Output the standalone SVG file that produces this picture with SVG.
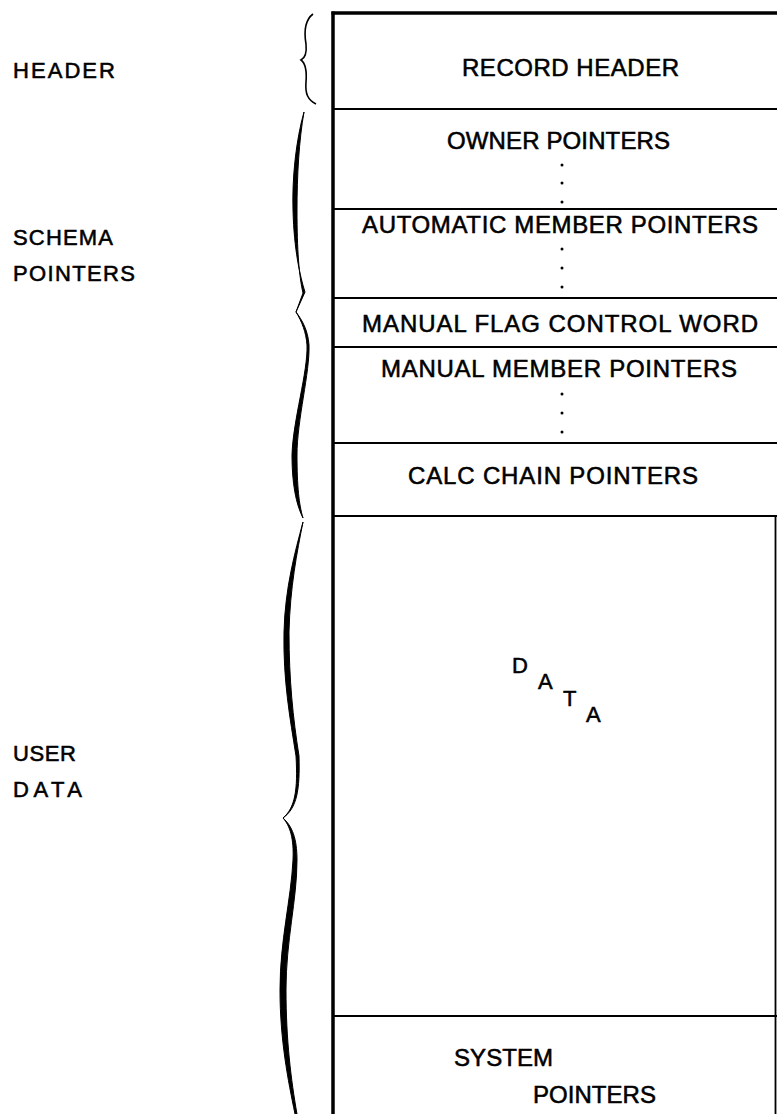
<svg xmlns="http://www.w3.org/2000/svg" width="777" height="1114" viewBox="0 0 777 1114">
<style>
text { font-family: "Liberation Sans", Arial, sans-serif; fill: #000; stroke: #000; stroke-width: 0.55; }
.in { font-size: 24px; }
.lab { font-size: 22px; }
.dat { font-size: 22px; }
.div { stroke: #000; stroke-width: 2; fill: none; }
.dot { fill: #000; }
.brace { fill: #000; stroke: #000; stroke-width: 1; stroke-linejoin: round; }
</style>
<rect width="777" height="1114" fill="#fff"/>

<g id="labels">
  <text class="lab" x="13" y="78" textLength="102" lengthAdjust="spacing">HEADER</text>
  <text class="lab" x="13" y="245" textLength="100" lengthAdjust="spacing">SCHEMA</text>
  <text class="lab" x="13" y="281" textLength="122" lengthAdjust="spacing">POINTERS</text>
  <text class="lab" x="13" y="761" textLength="63" lengthAdjust="spacing">USER</text>
  <text class="lab" x="13" y="797" textLength="69" lengthAdjust="spacing">DATA</text>
</g>

<g id="braces">
  <path id="brace-header" d="M313,14 C305,20 304,32 306,44 C307,54 305,58 301,60 C305,63 307,70 306,82 C305,94 308,100 316,104" fill="none" stroke="#000" stroke-width="1.6"/>
  <path id="brace-schema-top" class="brace" d="M304,112 C296,140 292,178 293,210 C294,250 300,276 305,292 L296,312 L303,293 C299,276 297,250 297,210 C297,176 299,140 304,112 Z"/>
  <path id="brace-schema-bottom" class="brace" d="M296,312 C302,322 306,332 307,345 C308,372 293,420 292,455 C292,490 298,508 303,518 C299,505 297,486 297,455 C297,420 310,372 309,345 C308,330 302,320 296,312 Z"/>
  <path id="brace-user-top" class="brace" d="M303,522 C295,552 285,588 284,632 C283,680 290,718 296,756 C298,790 295,808 283,818 C297,808 300,790 299,756 C293,718 289,680 289,632 C290,588 297,552 303,522 Z"/>
  <path id="brace-user-bottom" class="brace" d="M283,818 C290,826 294,838 293,860 C291,900 280,940 280,990 C280,1040 288,1080 295,1114 L297,1114 C291,1080 286,1040 286,990 C286,940 297,900 297,860 C297,838 292,826 283,818 Z"/>
</g>

<g id="record">
  <g id="frame">
    <line x1="333" y1="11.5" x2="333" y2="1114" stroke="#000" stroke-width="3.5"/>
    <line x1="331.5" y1="13" x2="777" y2="13" stroke="#000" stroke-width="3.3"/>
    <line x1="775.5" y1="516" x2="775.5" y2="1114" stroke="#000" stroke-width="1.8"/>
  </g>
  <g id="dividers">
    <line class="div" x1="333" y1="109" x2="777" y2="109"/>
    <line class="div" x1="333" y1="209" x2="777" y2="209"/>
    <line class="div" x1="333" y1="298" x2="777" y2="298"/>
    <line class="div" x1="333" y1="347" x2="777" y2="347"/>
    <line class="div" x1="333" y1="443" x2="777" y2="443"/>
    <line class="div" x1="333" y1="516" x2="777" y2="516" stroke-width="2.3"/>
    <line class="div" x1="333" y1="1016" x2="777" y2="1016"/>
  </g>
  <g id="record-header">
    <text class="in" x="462" y="76" textLength="217" lengthAdjust="spacing">RECORD HEADER</text>
  </g>
  <g id="owner-pointers">
    <text class="in" x="447" y="149" textLength="223" lengthAdjust="spacing">OWNER POINTERS</text>
    <circle class="dot" cx="562" cy="165" r="1.5"/>
    <circle class="dot" cx="562" cy="183" r="1.5"/>
    <circle class="dot" cx="562" cy="202" r="1.5"/>
  </g>
  <g id="automatic-member-pointers">
    <text class="in" x="362" y="233" textLength="396" lengthAdjust="spacing">AUTOMATIC MEMBER POINTERS</text>
    <circle class="dot" cx="562" cy="249" r="1.5"/>
    <circle class="dot" cx="562" cy="268" r="1.5"/>
    <circle class="dot" cx="562" cy="287" r="1.5"/>
  </g>
  <g id="manual-flag-control-word">
    <text class="in" x="362" y="332" textLength="396" lengthAdjust="spacing">MANUAL FLAG CONTROL WORD</text>
  </g>
  <g id="manual-member-pointers">
    <text class="in" x="381" y="377" textLength="356" lengthAdjust="spacing">MANUAL MEMBER POINTERS</text>
    <circle class="dot" cx="562" cy="394" r="1.5"/>
    <circle class="dot" cx="562" cy="413" r="1.5"/>
    <circle class="dot" cx="562" cy="432" r="1.5"/>
  </g>
  <g id="calc-chain-pointers">
    <text class="in" x="408" y="484" textLength="290" lengthAdjust="spacing">CALC CHAIN POINTERS</text>
  </g>
  <g id="data">
    <text class="dat" x="512" y="673">D</text>
    <text class="dat" x="538" y="689">A</text>
    <text class="dat" x="563" y="706">T</text>
    <text class="dat" x="586" y="722">A</text>
  </g>
  <g id="system-pointers">
    <text class="in" x="454" y="1066" textLength="99" lengthAdjust="spacing">SYSTEM</text>
    <text class="in" x="533" y="1103" textLength="123" lengthAdjust="spacing">POINTERS</text>
  </g>
</g>
<g id="connectors"></g>
</svg>
